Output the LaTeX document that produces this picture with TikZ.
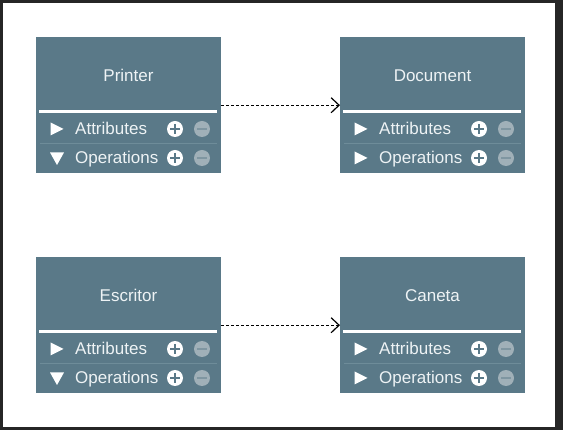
\documentclass[tikz,border=0pt]{standalone}
\usepackage{fontspec}
\setmainfont{Liberation Sans}
\usetikzlibrary{arrows.meta}
\definecolor{boxfill}{HTML}{5A7988}
\definecolor{minusfill}{HTML}{A0B0B8}
\definecolor{minusbar}{HTML}{7F96A1}
\definecolor{divider}{HTML}{6E8C99}
\definecolor{txt}{HTML}{EEF3F5}
\definecolor{frame}{HTML}{262626}
\tikzset{
  classbox/.style={fill=boxfill, draw=none, minimum width=185pt, minimum height=136pt, inner sep=0pt, anchor=north west},
  title/.style={text=txt, font=\fontsize{17}{20}\selectfont, inner sep=0pt, anchor=base},
  rowtext/.style={text=txt, font=\fontsize{17}{20}\selectfont, inner sep=0pt, anchor=base west},
  sepline/.style={draw=white, line width=3pt},
  thinline/.style={draw=divider, line width=0.8pt},
  tri/.style={fill=white, draw=none},
  plusbtn/.style={fill=white, draw=none},
  minusbtn/.style={fill=minusfill, draw=none},
  plusbar/.style={draw=boxfill, line width=2.4pt},
  minusbarst/.style={draw=minusbar, line width=2.4pt},
  dep/.style={draw=black, line width=1.2pt, dash pattern=on 3pt off 2pt, -{Straight Barb[length=8pt,width=15pt,line width=1.2pt]}}
}
% #1 name, #2 x, #3 y, #4 title, #5 = 1 for down triangle on operations
\newcommand\umlclass[5]{%
  \node[classbox] (#1) at (#2,#3) {};
  \begin{scope}[shift={(#2,#3)}]
    \node[title] (#1-title) at (92.5,44.5) {#4};
    \draw[sepline] (3,75) -- (181,75);
    \draw[thinline] (4,106) -- (181,106);
    % attributes row
    \fill[tri] (14.5,85.5) -- (27.5,92) -- (14.5,98.5) -- cycle;
    \node[rowtext] (#1-attr) at (39,98) {Attributes};
    \fill[plusbtn] (139,92) circle (8pt);
    \draw[plusbar] (134,92) -- (144,92) (139,87) -- (139,97);
    \fill[minusbtn] (166,92) circle (8pt);
    \draw[minusbarst] (161,92) -- (171,92);
    % operations row
    \ifnum#5=1
      \fill[tri] (14,115.5) -- (28,115.5) -- (21,128) -- cycle;
    \else
      \fill[tri] (14.5,114.5) -- (27.5,121) -- (14.5,127.5) -- cycle;
    \fi
    \node[rowtext] (#1-ops) at (39,127) {Operations};
    \fill[plusbtn] (139,121) circle (8pt);
    \draw[plusbar] (134,121) -- (144,121) (139,116) -- (139,126);
    \fill[minusbtn] (166,121) circle (8pt);
    \draw[minusbarst] (161,121) -- (171,121);
  \end{scope}%
}
\begin{document}
\begin{tikzpicture}[x=1pt,y=-1pt]
  \useasboundingbox (0,0) rectangle (563,430);
  \fill[frame] (0,0) rectangle (563,430);
  \fill[white] (3,3) rectangle (555,427);
  \umlclass{printer}{36}{37}{Printer}{1}
  \umlclass{document}{340}{37}{Document}{0}
  \umlclass{escritor}{36}{257}{Escritor}{1}
  \umlclass{caneta}{340}{257}{Caneta}{0}
  \draw[dep] (printer.east) -- (document.west);
  \draw[dep] (escritor.east) -- (caneta.west);
\end{tikzpicture}
\end{document}
